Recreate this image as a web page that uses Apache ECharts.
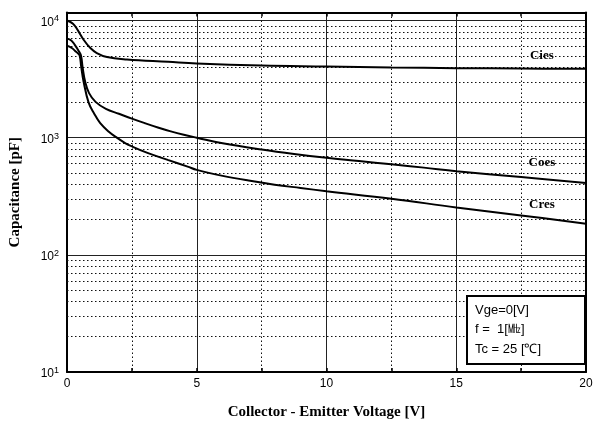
<!DOCTYPE html>
<html>
<head>
<meta charset="utf-8">
<script src="https://cdn.jsdelivr.net/npm/echarts@6/dist/echarts.min.js"></script>
<style>
  html, body { margin: 0; padding: 0; background: #ffffff; }
  #chart { width: 597px; height: 425px; }
</style>
</head>
<body>
<div id="chart"></div>
<script>
// Capacitance vs. collector-emitter voltage (Vge = 0 V, f = 1 MHz, Tc = 25 °C)
const ciesV = [0, 0.23, 0.42, 0.64, 0.9, 1.15, 1.54, 2.31, 3.9, 5, 7.5, 10, 12.5, 15, 17.5, 20];
const ciesC = [10000, 9400, 8230, 6850, 5820, 5270, 4870, 4650, 4440, 4300, 4130, 4050, 3970, 3920, 3890, 3870];

const coesV = [0, 0.165, 0.3, 0.45, 0.54, 0.6, 0.7, 0.85, 1.1, 1.5, 2.0, 2.5, 3.0, 3.5, 4.0, 4.5, 5.0, 6.0, 7.5, 8.75, 10, 11.25, 12.5, 13.75, 15, 17.5, 20];
const coesC = [7000, 6760, 6200, 5500, 5000, 4000, 3000, 2400, 2020, 1760, 1600, 1455, 1330, 1222, 1132, 1059, 1000, 895, 791, 725, 673, 632, 592, 555, 518, 461, 410];

const cresV = [0, 0.2, 0.35, 0.42, 0.49, 0.55, 0.64, 0.83, 1.05, 1.28, 1.6, 1.92, 2.24, 2.46, 3.1, 3.88, 4.65, 5, 6, 7, 8, 9, 10, 12.5, 15, 17.5, 20];
const cresC = [6100, 5800, 5400, 5250, 5000, 4000, 3000, 2000, 1600, 1330, 1130, 1000, 900, 850, 741, 646, 566, 531, 472, 430, 397, 372, 349, 301, 254, 217, 184];

// Axis ranges and grid values
const xMin = 0, xMax = 20, xStep = 5;
const yMin = 10, yMax = 11700;
const yMinorGrid = [20, 30, 40, 50, 60, 70, 80, 90,
                    200, 300, 400, 500, 600, 700, 800, 900,
                    2000, 3000, 4000, 5000, 6000, 7000, 8000, 9000];

// Curve names with their label anchor (voltage, capacitance)
const curveLabels = [
  { name: 'Cies', v: 18.3, c: 5050 },
  { name: 'Coes', v: 18.3, c: 612 },
  { name: 'Cres', v: 18.3, c: 268 }
];

// Test-condition box text
const conditionLines = ['Vge=0[V]', 'f =  1[\u3392]', 'Tc = 25 [\u2103]'];

const pair = (xs, ys) => xs.map((x, i) => [x, ys[i]]);

const sansFont = '"Liberation Sans", Arial, sans-serif';
const serifFont = '"Liberation Serif", "Times New Roman", serif';

const chart = echarts.init(document.getElementById('chart'), null, { renderer: 'canvas' });

const dotted = { color: '#111', width: 1, type: [1.5, 2.5] };
const solidGrid = { color: '#222', width: 1, type: 'solid' };

function curveSeries(name, xs, ys, labelInfo) {
  return {
    name: name,
    type: 'line',
    data: pair(xs, ys),
    smooth: 0.4,
    showSymbol: false,
    symbol: 'none',
    lineStyle: { color: '#000', width: 2 },
    z: 5,
    animation: false,
    markPoint: {
      symbol: 'circle',
      symbolSize: 1,
      itemStyle: { color: 'rgba(0,0,0,0)' },
      silent: true,
      label: {
        show: true,
        position: 'inside',
        formatter: labelInfo.name,
        color: '#000',
        fontFamily: serifFont,
        fontWeight: 'bold',
        fontSize: 13
      },
      data: [{ coord: [labelInfo.v, labelInfo.c] }]
    }
  };
}

const option = {
  backgroundColor: '#ffffff',
  animation: false,
  grid: { left: 66, right: 11, top: 12.5, bottom: 53, containLabel: false },
  xAxis: [
    {
      type: 'value',
      min: xMin, max: xMax, interval: xStep,
      position: 'bottom',
      name: 'Collector - Emitter Voltage [V]',
      nameLocation: 'middle',
      nameGap: 33,
      nameTextStyle: { fontFamily: serifFont, fontWeight: 'bold', fontSize: 15, color: '#000' },
      axisLine: { show: true, onZero: false, lineStyle: { color: '#000', width: 2 } },
      axisTick: { show: true, inside: true, length: 4, lineStyle: { color: '#000', width: 1.5 } },
      minorTick: { show: true, splitNumber: 2, length: 4, lineStyle: { color: '#000', width: 1.5 } },
      axisLabel: { color: '#000', fontFamily: sansFont, fontSize: 12, margin: 6 },
      splitLine: { show: true, lineStyle: solidGrid },
      minorSplitLine: { show: true, lineStyle: dotted }
    },
    {
      type: 'value',
      min: xMin, max: xMax, interval: xStep,
      position: 'top',
      axisLine: { show: true, onZero: false, lineStyle: { color: '#000', width: 2 } },
      axisTick: { show: true, inside: true, length: 4, lineStyle: { color: '#000', width: 1.5 } },
      minorTick: { show: true, splitNumber: 2, length: 4, lineStyle: { color: '#000', width: 1.5 } },
      axisLabel: { show: false },
      splitLine: { show: false }
    }
  ],
  yAxis: [
    {
      type: 'log',
      logBase: 10,
      min: yMin, max: yMax,
      position: 'left',
      name: 'Capacitance [pF]',
      nameLocation: 'middle',
      nameGap: 44,
      nameTextStyle: { fontFamily: serifFont, fontWeight: 'bold', fontSize: 15, color: '#000' },
      axisLine: { show: true, onZero: false, lineStyle: { color: '#000', width: 2 } },
      axisTick: { show: false },
      axisLabel: {
        margin: 8,
        formatter: function (v) {
          const e = Math.round(Math.log10(v));
          if (Math.abs(Math.pow(10, e) - v) > 1e-6 * v) return '';
          return '{b|10}{e|' + e + '}';
        },
        rich: {
          b: { fontFamily: sansFont, fontSize: 12, lineHeight: 12, padding: [4, 0, 0, 0], color: '#000' },
          e: { fontFamily: sansFont, fontSize: 9, lineHeight: 9, verticalAlign: 'top', color: '#000' }
        }
      },
      splitLine: { show: true, lineStyle: solidGrid }
    },
    {
      type: 'log',
      logBase: 10,
      min: yMin, max: yMax,
      position: 'right',
      axisLine: { show: true, onZero: false, lineStyle: { color: '#000', width: 2 } },
      axisTick: { show: false },
      axisLabel: { show: false },
      splitLine: { show: false }
    }
  ],
  series: [
    {
      name: 'minor-grid',
      type: 'line',
      data: [],
      silent: true,
      z: 1,
      markLine: {
        silent: true,
        symbol: 'none',
        animation: false,
        label: { show: false },
        lineStyle: dotted,
        data: yMinorGrid.map(v => ({ yAxis: v }))
      }
    },
    curveSeries('Cies', ciesV, ciesC, curveLabels[0]),
    curveSeries('Coes', coesV, coesC, curveLabels[1]),
    curveSeries('Cres', cresV, cresC, curveLabels[2])
  ],
  graphic: {
    elements: [
      {
        type: 'rect',
        left: 466,
        top: 295,
        z: 100,
        shape: { x: 0, y: 0, width: 118, height: 68 },
        style: { fill: '#fff', stroke: '#000', lineWidth: 2 }
      }
    ].concat(conditionLines.map((t, i) => ({
      type: 'text',
      left: 475,
      top: 304 + i * 19.3,
      z: 101,
      style: {
        text: t,
        fill: '#000',
        font: '13px ' + sansFont
      }
    })))
  }
};

chart.setOption(option);
</script>
</body>
</html>
